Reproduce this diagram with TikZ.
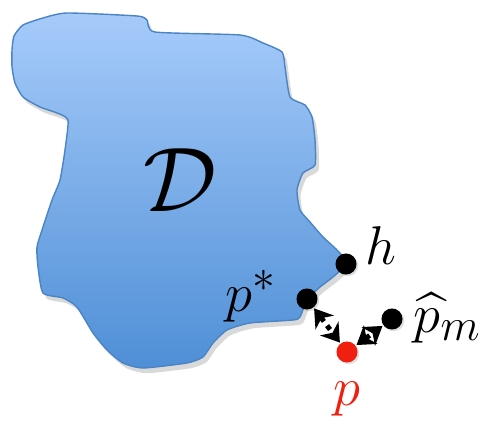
\documentclass[tikz,border=0pt]{standalone}
\usepackage{amsmath,amssymb}
\usepackage{tikz}
\usetikzlibrary{arrows.meta}
\usetikzlibrary{positioning, shadows}

\definecolor{regiontop}{HTML}{A6CBFA}
\definecolor{regionbot}{HTML}{4F8FD6}
\definecolor{regionedge}{HTML}{4A84C4}
\definecolor{ptred}{HTML}{F02010}

\tikzset{
  pt/.style={circle, fill=black, inner sep=0pt, minimum size=12pt,
    drop shadow={opacity=0.25, shadow xshift=1pt, shadow yshift=-1pt}},
  lbl/.style={font=\Huge, scale=1.25},
  gap/.style={line width=2.8pt, dash pattern=on 2.8pt off 3pt,
    {Stealth[length=10pt,width=13pt,inset=3pt]}-{Stealth[length=10pt,width=13pt,inset=3pt]},
    shorten <=0.5pt, shorten >=0.5pt}
}

\begin{document}
\begin{tikzpicture}[x=0.02cm, y=-0.02cm]
    \useasboundingbox (0,0) rectangle (484,422);
    % the region D
    \draw[regionedge, line width=0.8pt, top color=regiontop, bottom color=regionbot,
      drop shadow={opacity=0.3, shadow xshift=2pt, shadow yshift=-3pt}]
      plot[smooth cycle, tension=0.35] coordinates {
        (12,50) (14,36) (23,25) (43,18) (67,13) (137,16) (147,20) (155,32)
        (240,35) (263,43) (282,52) (285,67) (290,97) (305,105) (312,117)
        (315,140) (315,165) (303,173) (297,190) (300,210) (310,222) (323,237)
        (337,250) (347,263) (333,277) (320,287) (307,300) (300,317) (293,320)
        (250,323) (227,330) (213,343) (203,357) (187,363) (143,368) (123,363)
        (107,350) (93,333) (77,307) (63,298) (43,293) (38,267) (37,247)
        (43,227) (52,200) (60,180) (65,150) (68,120) (57,113) (40,107)
        (23,97) (15,83) (12,67)};
    \node[font=\Huge, scale=2.1] (dom) at (180,180) {$\mathcal{D}$};

    % points
    \node[pt] (h) at (346,264) {};
    \node[pt] (pstar) at (307,299) {};
    \node[pt] (phat) at (392,319) {};
    \node[pt, fill=ptred] (p) at (347,352) {};

    \node[lbl, anchor=west] (hlbl) at (358,246) {$h$};
    \node[lbl, anchor=east] (pstarlbl) at (284,296) {$p^*$};
    \node[lbl, anchor=west] (phatlbl) at (406,318) {$\widehat{p}_m$};
    \node[lbl, text=ptred] (plbl) at (347,399) {$p$};

    % distances
    \draw[gap] (pstar) -- (p);
    \draw[gap] (p) -- (phat);
\end{tikzpicture}
\end{document}
